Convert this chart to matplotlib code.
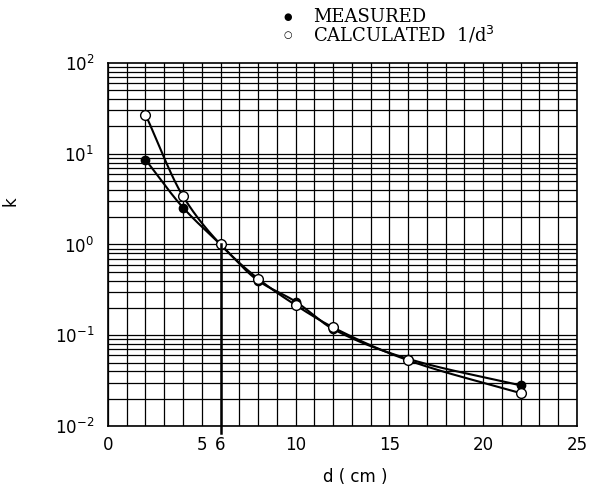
import numpy as np
import matplotlib
matplotlib.use("Agg")
import matplotlib.pyplot as plt

d_vals = [2, 4, 6, 8, 10, 12, 16, 22]
k_measured = [8.6, 2.55, 1.0, 0.40, 0.235, 0.117, 0.055, 0.028]
k_calculated = [27.0, 3.4, 1.0, 0.42, 0.215, 0.122, 0.053, 0.023]
x_ticks = [0, 5, 6, 10, 15, 20, 25]
y_ticks = [1e-2, 1e-1, 1e0, 1e1, 1e2]
y_tick_labels = [r"$10^{-2}$", r"$10^{-1}$", r"$10^{0}$", r"$10^{1}$", r"$10^{2}$"]


def pchip(x, y, xs):
    x = np.asarray(x, float); y = np.asarray(y, float)
    h = np.diff(x); delta = np.diff(y) / h
    n = len(x); m = np.zeros(n)
    for i in range(1, n - 1):
        if delta[i - 1] * delta[i] > 0:
            w1 = 2 * h[i] + h[i - 1]; w2 = h[i] + 2 * h[i - 1]
            m[i] = (w1 + w2) / (w1 / delta[i - 1] + w2 / delta[i])
    m[0] = delta[0]; m[-1] = delta[-1]
    out = np.empty_like(xs)
    for j, xv in enumerate(xs):
        i = min(np.searchsorted(x, xv) - 1, n - 2); i = max(i, 0)
        t = (xv - x[i]) / h[i]
        h00 = 2*t**3 - 3*t**2 + 1; h10 = t**3 - 2*t**2 + t
        h01 = -2*t**3 + 3*t**2; h11 = t**3 - t**2
        out[j] = h00*y[i] + h10*h[i]*m[i] + h01*y[i+1] + h11*h[i]*m[i+1]
    return out


fig = plt.figure(figsize=(5.9, 4.88), dpi=100)
ax = fig.add_axes([0.183, 0.127, 0.795, 0.744])
ax.set_yscale("log")
ax.set_xlim(0, 25)
ax.set_ylim(1e-2, 1e2)

# grid: every unit in x, minor log lines in y
for xv in range(0, 26):
    ax.axvline(xv, color="black", lw=0.9, zorder=1)
for dec in [-2, -1, 0, 1]:
    for mlt in range(1, 10):
        ax.axhline(mlt * 10.0**dec, color="black", lw=0.9, zorder=1)

xs = np.linspace(d_vals[0], d_vals[-1], 400)
for ys in (k_measured, k_calculated):
    ax.plot(xs, 10**pchip(d_vals, np.log10(ys), xs), color="black", lw=1.5, zorder=3)

ax.plot(d_vals, k_measured, "o", color="black", ms=6, zorder=4)
ax.plot(d_vals, k_calculated, "o", mfc="white", mec="black", mew=1.0, ms=7, zorder=4)

# highlight line at d=6
ax.plot([6, 6], [1.0, 0.0083], color="black", lw=1.8, clip_on=False, zorder=5)

ax.set_xticks(x_ticks)
ax.set_xticklabels([str(t) for t in x_ticks], fontsize=12, family="DejaVu Sans")
ax.set_yticks(y_ticks)
ax.set_yticklabels(y_tick_labels, fontsize=12)
ax.yaxis.set_minor_locator(matplotlib.ticker.NullLocator())
ax.tick_params(axis="x", length=0, pad=7)
ax.tick_params(axis="y", length=0, pad=10)
for s in ax.spines.values():
    s.set_linewidth(1.2)

ax.set_xlabel("d ( cm )", fontsize=12)
ax.xaxis.set_label_coords(0.527, -0.116)
ax.set_ylabel("k", fontsize=12)
ax.yaxis.set_label_coords(-0.188, 0.62)

fig.text(0.488, 0.966, "\u25CF", fontsize=7, ha="center", va="center")
fig.text(0.53, 0.966, "MEASURED", fontsize=13, family="DejaVu Serif", va="center")
fig.text(0.488, 0.928, "\u25CB", fontsize=7, ha="center", va="center")
fig.text(0.53, 0.928, r"CALCULATED  1/d$^{3}$", fontsize=13, family="DejaVu Serif", va="center")

fig.savefig("out.png", dpi=100)
